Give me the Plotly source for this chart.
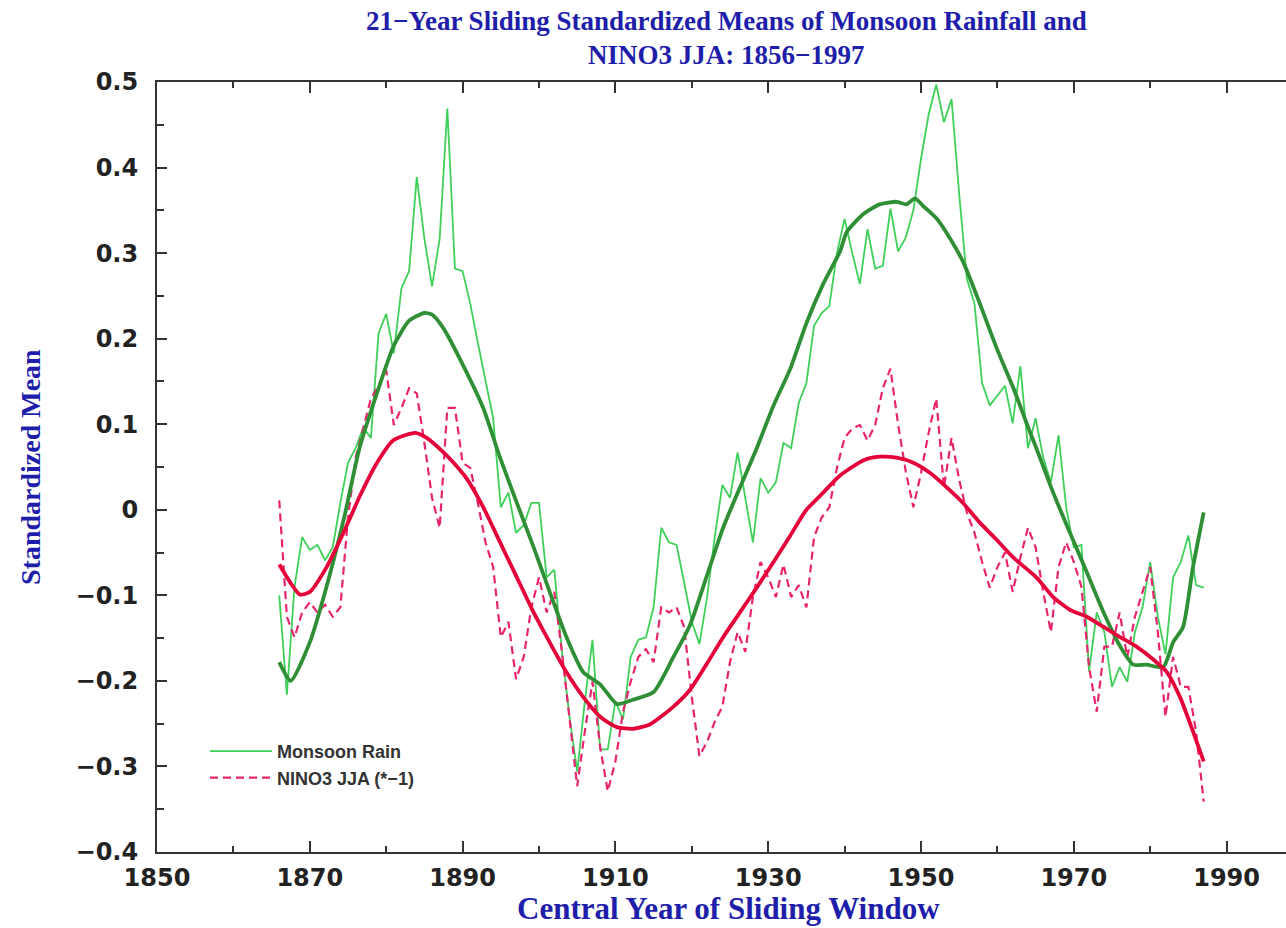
import plotly.graph_objects as go

# ---------------- data ----------------
monsoon_years = list(range(1866, 1988))
monsoon_vals = [
    -0.100, -0.216, -0.090, -0.032, -0.047, -0.041, -0.059, -0.044, 0.008, 0.055,   # 1866-1875
    0.072, 0.096, 0.084, 0.206, 0.229, 0.183, 0.259, 0.279, 0.389, 0.317,            # 1876-1885
    0.261, 0.317, 0.469, 0.282, 0.279, 0.241, 0.195, 0.150, 0.107, 0.003,            # 1886-1895
    0.020, -0.027, -0.018, 0.008, 0.008, -0.079, -0.070, -0.166, -0.242, -0.306,     # 1896-1905
    -0.224, -0.152, -0.280, -0.280, -0.224, -0.245, -0.172, -0.152, -0.149, -0.114,  # 1906-1915
    -0.021, -0.038, -0.041, -0.085, -0.131, -0.157, -0.102, -0.032, 0.029, 0.014,    # 1916-1925
    0.067, 0.014, -0.038, 0.037, 0.020, 0.032, 0.078, 0.072, 0.125, 0.148,           # 1926-1935
    0.215, 0.230, 0.238, 0.300, 0.340, 0.300, 0.264, 0.328, 0.282, 0.285,            # 1936-1945
    0.352, 0.302, 0.318, 0.350, 0.410, 0.462, 0.497, 0.453, 0.480, 0.369,            # 1946-1955
    0.270, 0.241, 0.148, 0.122, 0.133, 0.145, 0.101, 0.168, 0.072, 0.107,            # 1956-1965
    0.061, 0.032, 0.087, 0.003, -0.044, -0.041, -0.189, -0.120, -0.143, -0.207,      # 1966-1975
    -0.184, -0.201, -0.143, -0.114, -0.061, -0.125, -0.169, -0.079, -0.061, -0.030,  # 1976-1985
    -0.088, -0.091,                                                                  # 1986-1987
]

nino_years = list(range(1866, 1988))
nino_vals = [
    0.011, -0.125, -0.149, -0.120, -0.108, -0.120, -0.111, -0.125, -0.114, -0.009,   # 1866-1875
    0.061, 0.096, 0.130, 0.145, 0.163, 0.099, 0.119, 0.142, 0.136, 0.078,            # 1876-1885
    0.014, -0.021, 0.119, 0.119, 0.055, 0.049, 0.008, -0.038, -0.067, -0.149,        # 1886-1895
    -0.131, -0.198, -0.172, -0.114, -0.079, -0.120, -0.096, -0.166, -0.242, -0.323,  # 1896-1905
    -0.259, -0.201, -0.277, -0.329, -0.294, -0.236, -0.201, -0.172, -0.163, -0.178,  # 1906-1915
    -0.114, -0.120, -0.114, -0.137, -0.219, -0.288, -0.271, -0.248, -0.230, -0.178,  # 1916-1925
    -0.143, -0.166, -0.102, -0.061, -0.079, -0.102, -0.064, -0.102, -0.088, -0.114,  # 1926-1935
    -0.032, -0.009, 0.003, 0.049, 0.084, 0.095, 0.099, 0.081, 0.099, 0.142,          # 1936-1945
    0.165, 0.100, 0.045, 0.003, 0.043, 0.090, 0.130, 0.026, 0.084, 0.035,            # 1946-1955
    -0.003, -0.027, -0.061, -0.091, -0.067, -0.050, -0.096, -0.056, -0.021, -0.044,  # 1956-1965
    -0.096, -0.143, -0.067, -0.038, -0.061, -0.090, -0.184, -0.236, -0.160, -0.160,  # 1966-1975
    -0.120, -0.172, -0.125, -0.096, -0.067, -0.143, -0.242, -0.172, -0.207, -0.207,  # 1976-1985
    -0.259, -0.341,                                                                  # 1986-1987
]

monsoon_smooth_years = [1866, 1867.5, 1870, 1872, 1874.5, 1876.5, 1879, 1881, 1883, 1885,
                        1886, 1887.5, 1890, 1892.7, 1894.9, 1897.1, 1899.3, 1901.4, 1903.6, 1905.8,
                        1908, 1910.2, 1912.3, 1915, 1917.6, 1919.8, 1921.9, 1924.1, 1926.3, 1928.5,
                        1930.7, 1932.9, 1935, 1937.2, 1939.4, 1940.3, 1942.5, 1944.6, 1946.8, 1948.1,
                        1949.2, 1950.3, 1952.1, 1953.4, 1955.5, 1957.7, 1959.9, 1962.1, 1964.3, 1965.1,
                        1967.3, 1969.5, 1971.7, 1973.9, 1976.1, 1977.8, 1979.5, 1981.7, 1983, 1984.3,
                        1985.6, 1987]
monsoon_smooth_vals = [-0.178, -0.200, -0.155, -0.096, -0.009, 0.072, 0.142, 0.192, 0.221, 0.230,
                       0.228, 0.212, 0.170, 0.119, 0.061, 0.008, -0.044, -0.096, -0.149, -0.190,
                       -0.204, -0.227, -0.222, -0.213, -0.172, -0.134, -0.079, -0.021, 0.026, 0.072,
                       0.122, 0.165, 0.218, 0.264, 0.302, 0.325, 0.346, 0.357, 0.360, 0.357,
                       0.364, 0.355, 0.340, 0.323, 0.290, 0.241, 0.189, 0.142, 0.090, 0.072,
                       0.020, -0.027, -0.073, -0.120, -0.160, -0.181, -0.181, -0.184, -0.155, -0.137,
                       -0.067, -0.003]

nino_smooth_years = [1866, 1868.7, 1870, 1872.2, 1874.4, 1876.6, 1878.8, 1880.9, 1883.8, 1885.3,
                     1887.5, 1889.7, 1890.5, 1892.7, 1894.9, 1897.1, 1899.3, 1901.4, 1903.6, 1905.8,
                     1908, 1910.2, 1912.3, 1914.5, 1917.6, 1919.8, 1921.9, 1924.1, 1926.3, 1928.5,
                     1930.7, 1932.9, 1935, 1937.2, 1939.4, 1942.5, 1944.6, 1946.8, 1949, 1951.2,
                     1953.4, 1955.5, 1957.7, 1959.9, 1962.1, 1965.1, 1967.3, 1969.5, 1971.7, 1973.9,
                     1976.1, 1978.2, 1980.4, 1982.2, 1983.9, 1985.6, 1987]
nino_smooth_vals = [-0.064, -0.099, -0.096, -0.067, -0.027, 0.017, 0.055, 0.081, 0.090, 0.084,
                    0.067, 0.046, 0.037, 0.003, -0.038, -0.079, -0.120, -0.155, -0.190, -0.219,
                    -0.242, -0.254, -0.256, -0.251, -0.230, -0.210, -0.181, -0.149, -0.120, -0.091,
                    -0.061, -0.030, 0.000, 0.020, 0.040, 0.058, 0.062, 0.061, 0.055, 0.043,
                    0.026, 0.008, -0.015, -0.035, -0.056, -0.079, -0.102, -0.117, -0.125, -0.137,
                    -0.149, -0.160, -0.175, -0.190, -0.219, -0.259, -0.294]

x_tick_vals = [1850, 1870, 1890, 1910, 1930, 1950, 1970, 1990]
x_tick_text = ["1850", "1870", "1890", "1910", "1930", "1950", "1970", "1990"]
y_tick_vals = [0.5, 0.4, 0.3, 0.2, 0.1, 0.0, -0.1, -0.2, -0.3, -0.4]
y_tick_text = ["0.5", "0.4", "0.3", "0.2", "0.1", "0", "\u22120.1", "\u22120.2", "\u22120.3", "\u22120.4"]

# ---------------- styling ----------------
LIGHT_GREEN = "#3fd05a"
DARK_GREEN = "#2f8f34"
PINK = "#e8246e"
RED = "#e6003a"
BLUE = "#1e1eaa"
AXIS = "#333333"

fig = go.Figure()
fig.add_trace(go.Scatter(x=monsoon_years, y=monsoon_vals, mode="lines", name="Monsoon Rain",
                         line=dict(color=LIGHT_GREEN, width=1.8)))
fig.add_trace(go.Scatter(x=nino_years, y=nino_vals, mode="lines", name="NINO3 JJA (*\u22121)",
                         line=dict(color=PINK, width=2.2, dash="8px,5px")))
fig.add_trace(go.Scatter(x=monsoon_smooth_years, y=monsoon_smooth_vals, mode="lines",
                         line=dict(color=DARK_GREEN, width=3.8, shape="spline", smoothing=0.6),
                         showlegend=False))
fig.add_trace(go.Scatter(x=nino_smooth_years, y=nino_smooth_vals, mode="lines",
                         line=dict(color=RED, width=3.8, shape="spline", smoothing=0.6),
                         showlegend=False))

L, T, B = 157, 82, 76
W, H = 1286, 928
pw = W - L
ph = H - T - B

def px_x(px):
    return (px - L) / pw

def px_y(py):
    return (H - B - py) / ph

tickfont = dict(family="DejaVu Sans, Arial, sans-serif", size=24, color="#222222", weight="bold")

fig.update_layout(
    width=W, height=H,
    margin=dict(l=L, r=0, t=T, b=B),
    paper_bgcolor="white", plot_bgcolor="white",
    showlegend=True,
    legend=dict(x=px_x(205), y=px_y(733), xanchor="left", yanchor="top",
                bgcolor="rgba(0,0,0,0)", borderwidth=0,
                font=dict(family="Liberation Sans, Arial, sans-serif", size=18,
                          color="#333333", weight="bold"),
                tracegroupgap=0, itemwidth=62),
    xaxis=dict(range=[1850, 1850 + pw / 7.64], showgrid=False, zeroline=False,
               showline=True, linecolor=AXIS, linewidth=2, mirror="ticks",
               ticks="inside", ticklen=11, tickwidth=2, tickcolor=AXIS,
               tickvals=x_tick_vals, ticktext=x_tick_text, tickfont=tickfont,
               ticklabelstandoff=3,
               minor=dict(ticks="inside", ticklen=6, tickwidth=1.5, tickcolor=AXIS,
                          tick0=1850, dtick=10, showgrid=False)),
    yaxis=dict(range=[-0.4, 0.5], showgrid=False, zeroline=False,
               showline=True, linecolor=AXIS, linewidth=2,
               ticks="inside", ticklen=10, tickwidth=2, tickcolor=AXIS,
               tickvals=y_tick_vals, ticktext=y_tick_text, tickfont=tickfont,
               ticklabelstandoff=12,
               minor=dict(ticks="inside", ticklen=7, tickwidth=1.5, tickcolor=AXIS,
                          tick0=0, dtick=0.05, showgrid=False)),
)

serif = dict(family="Liberation Serif, Times New Roman, serif", size=27, color=BLUE, weight="bold")
fig.add_annotation(text="21\u2212Year Sliding Standardized Means of Monsoon Rainfall and",
                   xref="paper", yref="paper", x=px_x(726), y=px_y(21),
                   xanchor="center", yanchor="middle", showarrow=False, font=serif)
fig.add_annotation(text="NINO3 JJA: 1856\u22121997",
                   xref="paper", yref="paper", x=px_x(726), y=px_y(55),
                   xanchor="center", yanchor="middle", showarrow=False, font=serif)
fig.add_annotation(text="Central Year of Sliding Window",
                   xref="paper", yref="paper", x=px_x(728), y=px_y(908),
                   xanchor="center", yanchor="middle", showarrow=False,
                   font=dict(family="Liberation Serif, Times New Roman, serif", size=31,
                             color=BLUE, weight="bold"))
fig.add_annotation(text="Standardized Mean",
                   xref="paper", yref="paper", x=px_x(30), y=px_y(467),
                   xanchor="center", yanchor="middle", showarrow=False, textangle=-90,
                   font=dict(family="Liberation Serif, Times New Roman, serif", size=28,
                             color=BLUE, weight="bold"))

fig.write_html("out.html")
